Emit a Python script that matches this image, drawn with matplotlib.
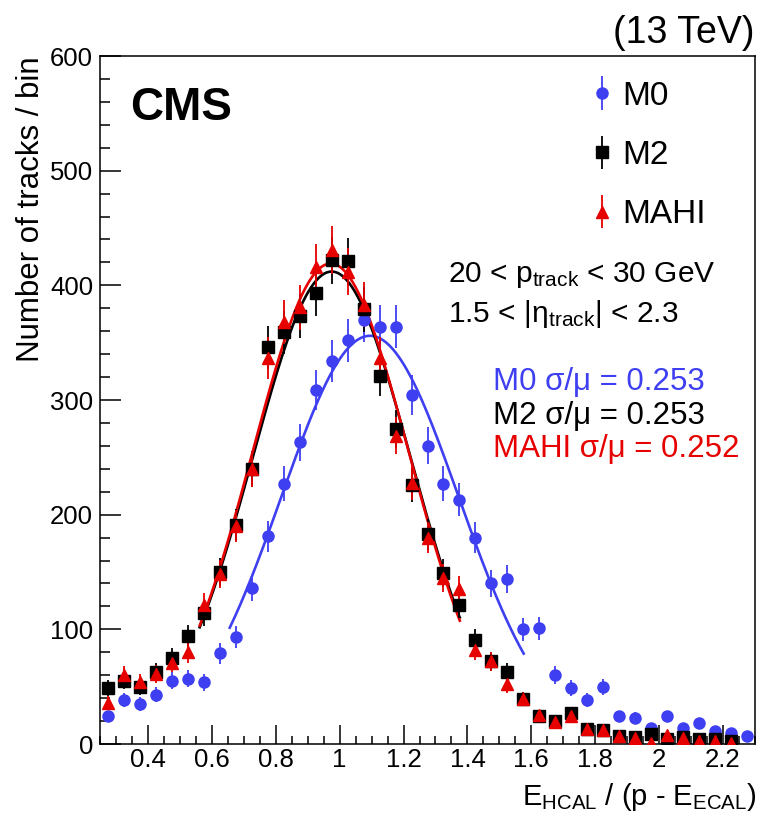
import numpy as np
import matplotlib
matplotlib.use('Agg')
import matplotlib.pyplot as plt
from matplotlib.ticker import MultipleLocator, FuncFormatter

plt.rcParams['font.family'] = 'Liberation Sans'
plt.rcParams['mathtext.fontset'] = 'custom'
plt.rcParams['mathtext.rm'] = 'Liberation Sans'
plt.rcParams['mathtext.it'] = 'Liberation Sans:italic'
plt.rcParams['mathtext.default'] = 'regular'

# histogram binning
bin_lo, bin_hi, bin_w = 0.25, 2.3, 0.05
centers = np.arange(bin_lo + bin_w / 2, bin_hi, bin_w)

# tracks per bin
m0 = [24, 38, 35, 43, 55, 57, 54, 79, 93, 136,
      181, 227, 263, 309, 334, 352, 370, 364, 364, 304,
      260, 227, 213, 180, 140, 144, 100, 101, 60, 49,
      38, 50, 24, 23, 14, 24, 14, 18, 11, 10, 7]
m2 = [49, 55, 50, 63, 75, 94, 114, 150, 191, 240,
      346, 359, 373, 393, 422, 421, 379, 321, 275, 226,
      183, 149, 121, 91, 72, 63, 39, 24, 20, 27,
      13, 12, 7, 6, 9, 4, 6, 4, 4, 3, np.nan]
mahi = [36, 60, 54, 61, 71, 80, 121, 148, 190, 240,
        337, 368, 381, 416, 431, 412, 383, 337, 269, 228,
        180, 145, 135, 82, 72, 52, 39, 25, 19, 24,
        13, 12, 7, 5, 1, 8, 5, 3, 3, 1, np.nan]

# gaussian fits: amplitude, mean, sigma, fit range
fit_m0 = (356, 1.095, 0.277, 0.656, 1.576)
fit_m2 = (412, 0.975, 0.247, 0.562, 1.376)
fit_mahi = (419, 0.972, 0.245, 0.562, 1.376)

labels = ['M0', 'M2', 'MAHI']
resol = ['0.253', '0.253', '0.252']
colors = ['#3f3ff2', 'black', '#e60000']
markers = ['o', 's', '^']
msizes = [8, 8, 9]


def gaus(x, a, mu, sig):
    return a * np.exp(-0.5 * ((x - mu) / sig) ** 2)


fig = plt.figure(figsize=(7.58, 8.25), dpi=100)
ax = fig.add_axes([100 / 758, 1 - 744 / 825, 655 / 758, 688 / 825])

for fit, c in zip([fit_m0, fit_m2, fit_mahi], colors):
    a, mu, sig, lo, hi = fit
    xx = np.linspace(lo, hi, 300)
    ax.plot(xx, gaus(xx, a, mu, sig), color=c, lw=1.9, zorder=2)

for vals, lab, c, mk, ms in zip([m0, m2, mahi], labels, colors, markers, msizes):
    v = np.array(vals, dtype=float)
    ax.errorbar(centers, v, yerr=np.sqrt(v), fmt=mk, color=c, ms=ms,
                elinewidth=1.3, capsize=0, label=lab, zorder=3)

ax.set_xlim(bin_lo, bin_hi)
ax.set_ylim(0, 600)
ax.xaxis.set_major_locator(MultipleLocator(0.2))
ax.xaxis.set_minor_locator(MultipleLocator(0.05))
ax.yaxis.set_major_locator(MultipleLocator(100))
ax.yaxis.set_minor_locator(MultipleLocator(20))
ax.xaxis.set_major_formatter(FuncFormatter(lambda v, p: '%g' % round(v, 2)))
ax.tick_params(which='both', direction='in', top=False, right=False,
               labelsize=18.5, width=1.1)
ax.tick_params(axis='x', which='major', length=13.5, pad=3)
ax.tick_params(axis='x', which='minor', length=6)
ax.tick_params(axis='y', which='major', length=15, pad=5)
ax.tick_params(axis='y', which='minor', length=7)
for s in ax.spines.values():
    s.set_linewidth(1.1)

ax.set_ylabel('Number of tracks / bin', fontsize=22.5, loc='top')
ax.yaxis.set_label_coords(-0.082, 1.0)
ax.set_xlabel('E$_{HCAL}$ / (p - E$_{ECAL}$)', fontsize=21, loc='right')
ax.xaxis.set_label_coords(1.003, -0.054)

ax.text(0.0458, 0.907, 'CMS', fontsize=33, fontweight='bold',
        transform=ax.transAxes, va='baseline')
fig.text(0.996, 1 - 43 / 825, '(13 TeV)', fontsize=27, ha='right', va='baseline')

leg = ax.legend(loc='upper left', bbox_to_anchor=(0.746, 0.964), frameon=False,
                fontsize=24, handlelength=0.8, handletextpad=0.2,
                labelspacing=0.85, borderpad=0, borderaxespad=0)

ax.text(0.531, 0.6715, '20 < p$_{track}$ < 30 GeV', fontsize=21.5,
        transform=ax.transAxes, va='baseline')
ax.text(0.531, 0.613, '1.5 < |\u03b7$_{track}$| < 2.3', fontsize=21.5,
        transform=ax.transAxes, va='baseline')

for i, (lab, r, c) in enumerate(zip(labels, resol, colors)):
    ax.text(0.600, 0.514 - i * 0.0487, lab + ' \u03c3/\u03bc = ' + r, fontsize=22.5,
            color=c, transform=ax.transAxes, va='baseline')

fig.savefig('out.png', dpi=100)
